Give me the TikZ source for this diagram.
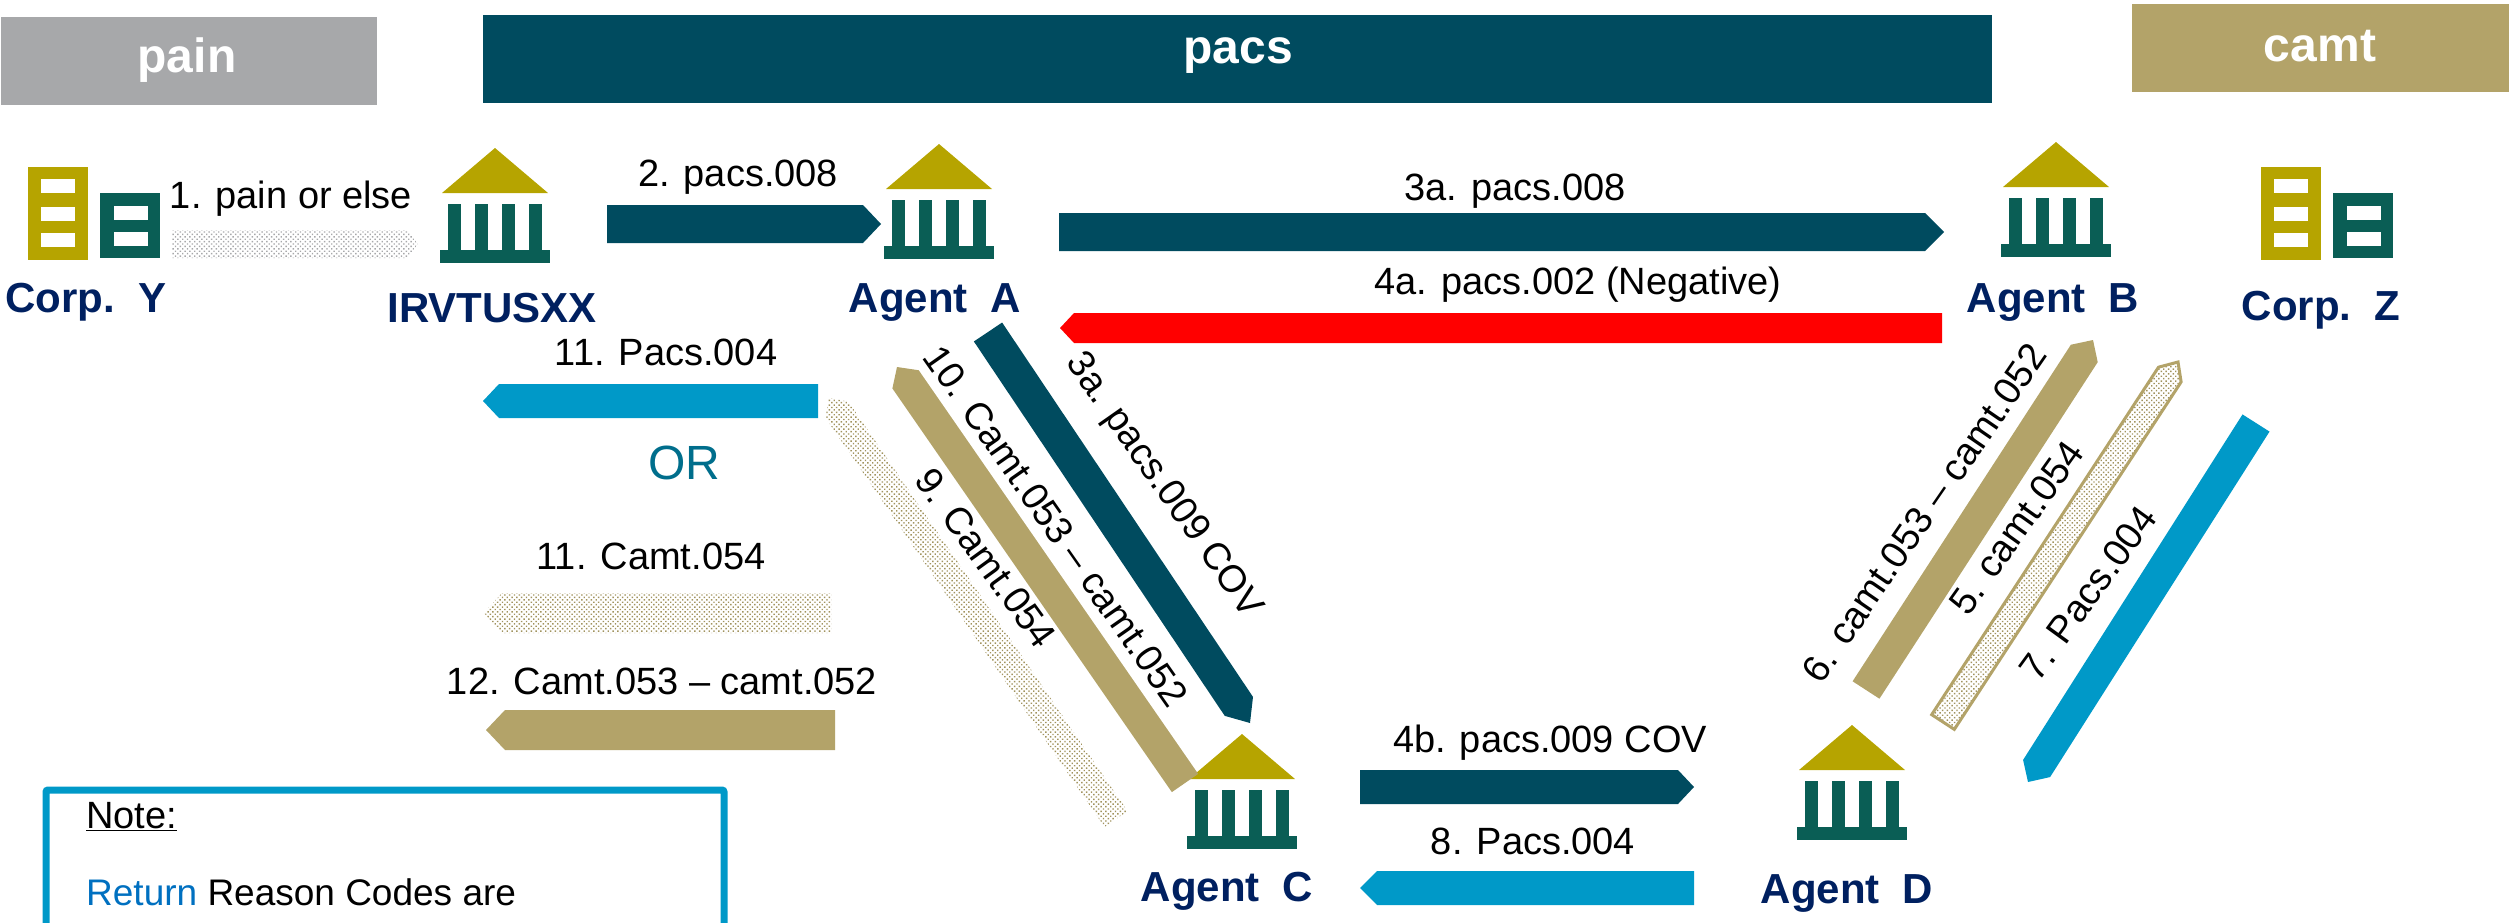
\documentclass[tikz,border=0pt]{standalone}
\usepackage{fontspec}
\setmainfont{Liberation Sans}
\usetikzlibrary{calc,patterns.meta}

\definecolor{pacsteal}{RGB}{0,75,95}
\definecolor{camttan}{RGB}{179,163,105}
\definecolor{paingray}{RGB}{167,168,170}
\definecolor{returnblue}{RGB}{0,153,200}
\definecolor{agentnavy}{RGB}{0,32,96}
\definecolor{icongold}{RGB}{182,164,0}
\definecolor{icongreen}{RGB}{10,94,85}
\definecolor{ortext}{RGB}{0,110,140}
\definecolor{returnword}{RGB}{0,112,192}

\newcommand{\msgarrow}[5]{%
  \coordinate (neck) at ($(#3)!#5pt!(#2)$);
  \path[#1] ($(#2)!#4pt!90:(#3)$) -- ($(neck)!#4pt!90:(#3)$) -- (#3)
    -- ($(neck)!#4pt!-90:(#3)$) -- ($(#2)!#4pt!-90:(#3)$) -- cycle;
}

\begin{document}
\begin{tikzpicture}[
      x=1pt, y=-1pt,
      pacsfill/.style={fill=pacsteal},
      tanfill/.style={fill=camttan},
      bluefill/.style={fill=returnblue},
      redfill/.style={fill=red},
      graydots/.style={pattern={Dots[distance=3.4pt,radius=1pt,angle=45]}, pattern color=paingray},
      tandots/.style={pattern={Dots[distance=3.4pt,radius=1pt,angle=45]}, pattern color=camttan!90!black},
      msgtext/.style={font=\fontsize{38}{44}\selectfont, text=black, anchor=base, inner sep=0pt},
      agenttext/.style={font=\fontsize{42}{48}\selectfont\bfseries, text=agentnavy, anchor=base, inner sep=0pt},
      barlabel/.style={font=\fontsize{48}{54}\selectfont\bfseries, text=white},
      pics/bankicon/.style={code={
        \fill[icongold] (0,0) -- (53,45) -- (-53,45) -- cycle;
        \foreach \colx in {-47,-20,7,34}
          \fill[icongreen] (\colx,56) rectangle ++(13,46);
        \fill[icongreen] (-55,102) rectangle (55,115);
      }},
      pics/corpicon/.style={code={
        \fill[icongold] (0,0) rectangle (60,93);
        \foreach \winy in {12,40,66}
          \fill[white] (13,\winy) rectangle ++(34,14);
        \fill[icongreen] (72,26) rectangle (132,91);
        \foreach \winy in {39,65}
          \fill[white] (86,\winy) rectangle ++(34,14);
      }}]
    \clip (0,0) rectangle (2509,922);

    \fill[paingray] (1,17) rectangle (377,105);
    \node[barlabel] (painbar) at (187,60) {pain};
    \fill[pacsteal] (483,15) rectangle (1992,103);
    \node[barlabel] (pacsbar) at (1238,56) {pacs};
    \fill[camttan] (2132,4) rectangle (2509,92);
    \node[barlabel] (camtbar) at (2320,46) {camt};

    \pic (corpy) at (28,167) {corpicon};
    \pic (corpz) at (2261,167) {corpicon};
    \pic (irvt) at (495,148) {bankicon};
    \pic (agenta) at (939,144) {bankicon};
    \pic (agentb) at (2056,142) {bankicon};
    \pic (agentc) at (1242,734) {bankicon};
    \pic (agentd) at (1852,725) {bankicon};

    \node[agenttext] (corpylabel) at (86,312) {Corp.\ \ Y};
    \node[agenttext] (irvtlabel) at (492,322) {IRVTUSXX};
    \node[agenttext] (agentalabel) at (935,312) {Agent\ \ A};
    \node[agenttext] (agentblabel) at (2053,312) {Agent\ \ B};
    \node[agenttext] (corpzlabel) at (2321,320) {Corp.\ \ Z};
    \node[agenttext] (agentclabel) at (1227,901) {Agent\ \ C};
    \node[agenttext] (agentdlabel) at (1847,903) {Agent\ \ D};

    \coordinate (m1s) at (172,244);   \coordinate (m1e) at (418,244);
    \coordinate (m2s) at (607,224);   \coordinate (m2e) at (881,224);
    \coordinate (m3s) at (1059,232);  \coordinate (m3e) at (1944,232);
    \coordinate (m4s) at (1942,328);  \coordinate (m4e) at (1060,328);
    \coordinate (m3bs) at (988,332);  \coordinate (m3be) at (1250,723);
    \coordinate (m4bs) at (1360,787); \coordinate (m4be) at (1694,787);
    \coordinate (m5s) at (1943,722);  \coordinate (m5e) at (2178,362);
    \coordinate (m6s) at (1866,690);  \coordinate (m6e) at (2093,340);
    \coordinate (m7s) at (2256,423);  \coordinate (m7e) at (2028,782);
    \coordinate (m8s) at (1694,888);  \coordinate (m8e) at (1360,888);
    \coordinate (m9s) at (1116,819);  \coordinate (m9e) at (829,398);
    \coordinate (m10s) at (1185,783); \coordinate (m10e) at (897,367);
    \coordinate (m11s) at (818,401);  \coordinate (m11e) at (483,401);
    \coordinate (m11bs) at (831,613); \coordinate (m11be) at (484,613);
    \coordinate (m12s) at (835,730);  \coordinate (m12e) at (486,730);

    \msgarrow{graydots}{m1s}{m1e}{14}{11}
    \msgarrow{pacsfill}{m2s}{m2e}{19}{18}
    \msgarrow{pacsfill}{m3s}{m3e}{19}{19}
    \msgarrow{redfill}{m4s}{m4e}{15}{14}
    \msgarrow{pacsfill}{m3bs}{m3be}{17}{20}
    \msgarrow{pacsfill}{m4bs}{m4be}{17}{16}
    \msgarrow{tandots,draw=camttan,line width=3pt}{m5s}{m5e}{13.5}{15}
    \msgarrow{tanfill}{m6s}{m6e}{16}{16}
    \msgarrow{bluefill}{m7s}{m7e}{16}{16}
    \msgarrow{bluefill}{m8s}{m8e}{17}{17}
    \msgarrow{tandots}{m9s}{m9e}{14}{14}
    \msgarrow{tanfill}{m10s}{m10e}{16}{15}
    \msgarrow{bluefill}{m11s}{m11e}{17}{16}
    \msgarrow{tandots}{m11bs}{m11be}{20}{18}
    \msgarrow{tanfill}{m12s}{m12e}{20}{19}

    \node[msgtext] (m1label) at (291,208) {1. pain or else};
    \node[msgtext] (m2label) at (738,186) {2. pacs.008};
    \node[msgtext] (m3label) at (1515,200) {3a. pacs.008};
    \node[msgtext] (m4label) at (1578,294) {4a. pacs.002 (Negative)};
    \node[msgtext,anchor=center,rotate=-55] (m3blabel) at (1163,486) {3a. pacs.009 COV};
    \node[msgtext] (m4blabel) at (1550,752) {4b. pacs.009 COV};
    \node[msgtext,anchor=center,rotate=54.5] (m5label) at (2016,528) {5. camt.054};
    \node[msgtext,anchor=center,rotate=55.5] (m6label) at (1924,513) {6. camt.053 – camt.052};
    \node[msgtext,anchor=center,rotate=54] (m7label) at (2088,593) {7. Pacs.004};
    \node[msgtext] (m8label) at (1533,854) {8. Pacs.004};
    \node[msgtext,anchor=center,rotate=-54] (m9label) at (986,558) {9. Camt.054};
    \node[msgtext,anchor=center,rotate=-55] (m10label) at (1056,526) {10. Camt.053 – camt.052};
    \node[msgtext] (m11label) at (666,365) {11. Pacs.004};
    \node[font=\fontsize{48}{54}\selectfont, text=ortext, anchor=base, inner sep=0pt] (orlabel) at (684,479) {OR};
    \node[msgtext] (m11blabel) at (651,569) {11. Camt.054};
    \node[msgtext] (m12label) at (662,694) {12. Camt.053 – camt.052};

    \node[draw=returnblue, line width=7pt, rounded corners=2pt, anchor=north west,
      minimum width=678pt, minimum height=220pt] (notebox) at (42.5,786.5) {};
    \node[msgtext,anchor=base west] (notetitle) at (86,828) {\underline{Note:}};
    \node[msgtext,anchor=base west,font=\fontsize{37}{44}\selectfont] (noteline) at (86,905)
      {\textcolor{returnword}{Return} Reason Codes are};
  \end{tikzpicture}
\end{document}
